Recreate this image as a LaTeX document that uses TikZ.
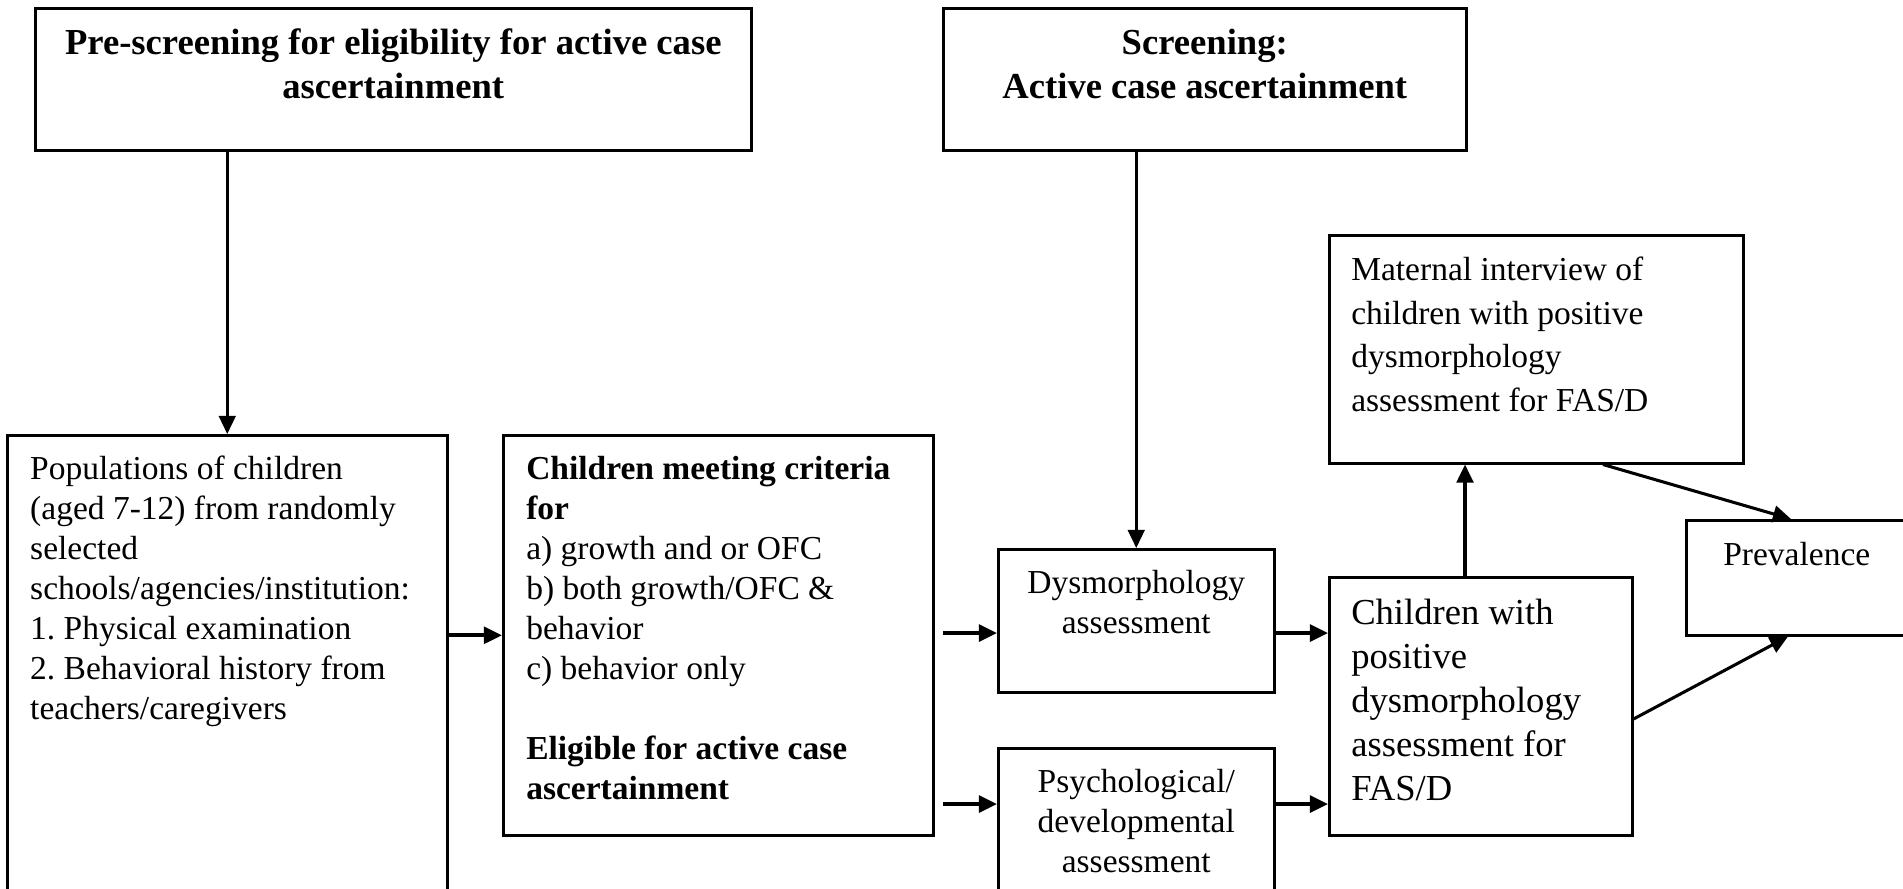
\documentclass[tikz,border=0pt]{standalone}
\usepackage{fontspec}
\setmainfont{Liberation Serif}
\usetikzlibrary{arrows.meta,calc}
\frenchspacing
\newlength\pxu \setlength\pxu{0.36pt}
\newcommand\bodyfont{\fontsize{12.06pt}{14.4pt}\selectfont}
\newcommand\largefont{\fontsize{13.18pt}{15.84pt}\selectfont}
\newcommand\matfont{\fontsize{12.06pt}{15.66pt}\selectfont}
\tikzset{
  box/.style={draw, line width=0.9pt, anchor=north west, inner ysep=16\pxu, inner xsep=23\pxu},
  tip/.style={-{Triangle[length=6.5pt,width=6pt]}},
  arrv/.style={tip, line width=0.9pt},
  arrh/.style={tip, line width=1.3pt},
  arrd/.style={tip, line width=1.1pt}
}
\begin{document}
\begin{tikzpicture}[x=0.36pt, y=-0.36pt]
\clip (0,0) rectangle (1903,888);
\fill[white] (0,0) rectangle (1903,888);

\node[box, inner xsep=10\pxu, inner ysep=15\pxu] (pre) at (34,7)
  {\parbox[c][112\pxu][t]{696\pxu}{\largefont\bfseries\centering\strut Pre-screening for eligibility for active case\\ ascertainment}};
\node[box, inner xsep=10\pxu, inner ysep=15\pxu] (scr) at (942,7)
  {\parbox[c][112\pxu][t]{503\pxu}{\largefont\bfseries\centering\strut Screening:\\ Active case ascertainment}};

\node[box] (pop) at (6,434)
  {\parbox[c][448\pxu][t]{394\pxu}{\bodyfont\raggedright\strut Populations of children\\ (aged 7-12) from randomly\\ selected\\ schools/agencies/institution:\\ 1. Physical examination\\ 2. Behavioral history from\\ teachers/caregivers}};

\node[box] (crit) at (502,434)
  {\parbox[c][368\pxu][t]{384\pxu}{\bodyfont\raggedright\strut {\bfseries Children meeting criteria\\ for}\\ a) growth and or OFC\\ b) both growth/OFC \&\\ behavior\\ c) behavior only\\[40\pxu] {\bfseries Eligible for active case\\ ascertainment}}};

\node[box, inner xsep=8\pxu] (dys) at (997,548)
  {\parbox[c][111\pxu][t]{260\pxu}{\bodyfont\centering\strut Dysmorphology\\ assessment}};
\node[box, inner xsep=8\pxu] (psy) at (997,747)
  {\parbox[c][140\pxu][t]{260\pxu}{\bodyfont\centering\strut Psychological/\\ developmental\\ assessment}};

\node[box, inner xsep=22\pxu] (chi) at (1328,576)
  {\parbox[c][226\pxu][t]{259\pxu}{\largefont\raggedright\strut Children with\\ positive\\ dysmorphology\\ assessment for\\ FAS/D}};

\node[box, inner xsep=22\pxu, inner ysep=15\pxu] (mat) at (1328,234)
  {\parbox[c][198\pxu][t]{370\pxu}{\matfont\raggedright\strut Maternal interview of\\ children with positive\\ dysmorphology\\ assessment for FAS/D}};

\node[box, inner xsep=10\pxu, inner ysep=17\pxu] (prev) at (1685,519)
  {\parbox[c][81\pxu][t]{201\pxu}{\bodyfont\centering\strut Prevalence}};

\coordinate (s1) at (943,633);
\coordinate (s2) at (943,804);
\coordinate (cm) at (1465,0);
\coordinate (mp) at (1603,0);
\coordinate (pm) at (1791,0);
\coordinate (cp) at (1788,0);
\coordinate (cy) at (0,719);

\draw[arrv] (pre.south -| pop.north) -- (pop.north);
\draw[arrv] (scr.south -| dys.north) -- (dys.north);
\draw[arrh] (crit.west -| pop.east) -- (crit.west);
\draw[arrh] (s1) -- (s1 -| dys.west);
\draw[arrh] (s2) -- (s2 -| psy.west);
\draw[arrh] (s1 -| dys.east) -- (s1 -| chi.west);
\draw[arrh] (s2 -| psy.east) -- (s2 -| chi.west);
\draw[arrd] (chi.north -| cm) -- (mat.south -| cm);
\draw[arrd] (mat.south -| mp) -- (prev.north -| pm);
\draw[arrd] (chi.east |- cy) -- (prev.south -| cp);
\end{tikzpicture}
\end{document}
